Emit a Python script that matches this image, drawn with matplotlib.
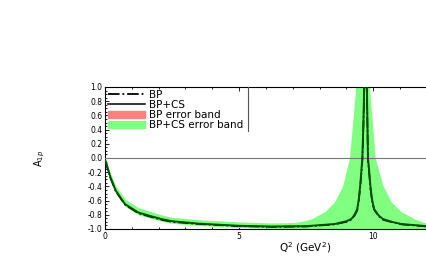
import numpy as np
import matplotlib
matplotlib.use("Agg")
import matplotlib.pyplot as plt
from matplotlib.ticker import MultipleLocator, FormatStrFormatter
from matplotlib.lines import Line2D

plt.rcParams['font.family'] = ['DejaVu Sans']

# BP+CS central curve
q2_cs = [0.0, 0.05, 0.2, 0.4, 0.75, 1.25, 2.1, 2.5, 3.5, 5.0, 6.2, 7.5, 8.55, 9.0,
         9.18, 9.3, 9.4, 9.45, 9.51, 9.55, 9.59, 9.63, 9.66, 9.71, 9.76, 9.78, 9.8,
         9.85, 9.89, 9.95, 10.03, 10.2, 10.36, 10.7, 11.05, 12.0]
a_cs = [-0.03, -0.08, -0.27, -0.46, -0.65, -0.77, -0.86, -0.89, -0.925, -0.955, -0.965,
        -0.96, -0.93, -0.89, -0.86, -0.8, -0.72, -0.6, -0.39, -0.2, 0.0, 0.5, 1.0, 1.4,
        1.0, 0.5, 0.0, -0.2, -0.39, -0.58, -0.72, -0.81, -0.86, -0.9, -0.93, -0.96]

# BP central curve
q2_bp = [0.0, 0.05, 0.2, 0.4, 0.75, 1.25, 2.1, 2.5, 3.5, 5.0, 6.2, 7.5, 8.55, 9.0,
         9.18, 9.3, 9.4, 9.45, 9.51, 9.55, 9.59, 9.63, 9.66, 9.71, 9.76, 9.78, 9.8,
         9.85, 9.89, 9.95, 10.03, 10.2, 10.36, 10.7, 11.05, 12.0]
a_bp = [-0.03, -0.09, -0.28, -0.47, -0.66, -0.78, -0.87, -0.90, -0.93, -0.96, -0.97,
        -0.965, -0.935, -0.9, -0.87, -0.81, -0.74, -0.63, -0.42, -0.24, -0.04, 0.45, 0.95,
        1.35, 0.95, 0.45, -0.04, -0.24, -0.42, -0.6, -0.73, -0.82, -0.87, -0.905, -0.935,
        -0.965]

# BP+CS error band
q2_band = [0.0, 0.2, 0.4, 0.75, 1.25, 2.1, 2.5, 3.5, 5.0, 6.2, 7.0, 7.3, 7.68, 8.18,
           8.55, 8.86, 9.11, 9.24, 9.34, 9.4, 9.8, 9.86, 9.95, 10.07, 10.36, 10.67,
           11.05, 11.55, 12.0]
band_hi = [0.01, -0.21, -0.39, -0.58, -0.70, -0.80, -0.835, -0.87, -0.90, -0.915, -0.91,
           -0.895, -0.86, -0.76, -0.62, -0.39, 0.0, 0.55, 0.98, 1.3, 1.3, 0.98, 0.55, 0.0,
           -0.39, -0.62, -0.76, -0.86, -0.92]
band_lo = [-0.05, -0.3, -0.49, -0.68, -0.80, -0.89, -0.92, -0.95, -0.98, -0.99,
           -1.0, -1.02, -1.03, -1.03, -1.03, -1.03, -1.03, -1.03, -1.03, -1.03, -1.03,
           -1.03, -1.03, -1.03, -1.03, -1.03, -1.03, -1.03, -1.02]

# BP error band (thin, mostly hidden under the green one)
bp_hi = [v + 0.01 for v in a_bp]
bp_lo = [v - 0.01 for v in a_bp]

fig = plt.figure(figsize=(4.27, 2.62), dpi=100)
ax = fig.add_axes([105 / 427, 1 - 229 / 262, 322 / 427, 142 / 262])

ax.fill_between(q2_bp, bp_lo, bp_hi, color="#ff8080", lw=0, zorder=1)
ax.fill_between(q2_band, band_lo, band_hi, color="#80ff80", lw=0, zorder=2)
ax.axhline(0, color="#777777", lw=0.8, zorder=3)
ax.plot(q2_bp, a_bp, "-.", color="black", lw=1.2, zorder=4)
ax.plot(q2_cs, a_cs, "-", color="#005200", lw=1.4, zorder=5)

ax.set_xlim(0, 12)
ax.set_ylim(-1, 1)
ax.xaxis.set_major_locator(MultipleLocator(5))
ax.xaxis.set_minor_locator(MultipleLocator(1))
ax.yaxis.set_major_locator(MultipleLocator(0.2))
ax.yaxis.set_minor_locator(MultipleLocator(0.05))
ax.tick_params(which="both", direction="in", top=True, right=False, labelsize=5.5,
               width=0.6, pad=2)
ax.tick_params(which="major", length=3)
ax.tick_params(which="minor", length=1.5)
ax.spines["right"].set_visible(False)
for s in ["left", "top", "bottom"]:
    ax.spines[s].set_linewidth(0.8)
ax.yaxis.set_major_formatter(FormatStrFormatter("%.1f"))

ax.set_xlabel(r"Q$^2$ (GeV$^2$)", fontsize=7.5)
ax.xaxis.set_label_coords(0.62, -0.08)
ax.set_ylabel(r"A$_{1p}$", fontsize=7)
ax.yaxis.set_label_coords(-0.18, 0.5)

handles = [Line2D([], [], ls="-.", color="black", lw=1.3),
           Line2D([], [], ls="-", color="black", lw=1.1),
           plt.Rectangle((0, 0), 1, 1, color="#ff8080"),
           plt.Rectangle((0, 0), 1, 1, color="#80ff80")]
labels = ["BP", "BP+CS", "BP error band", "BP+CS error band"]
leg = ax.legend(handles, labels, loc="upper left", frameon=False, fontsize=7.5,
                handlelength=3.5, handleheight=0.75, handletextpad=0.4,
                labelspacing=0.0, borderaxespad=0.2, borderpad=0.1)

fig.canvas.draw()
bb = leg.get_window_extent().transformed(fig.transFigure.inverted())
ax_top = ax.get_position().y1
fig.add_artist(Line2D([bb.x1 + 0.01, bb.x1 + 0.01], [bb.y0, ax_top], color="#555555",
                      lw=0.8, transform=fig.transFigure))

fig.savefig("out.png", dpi=100)
